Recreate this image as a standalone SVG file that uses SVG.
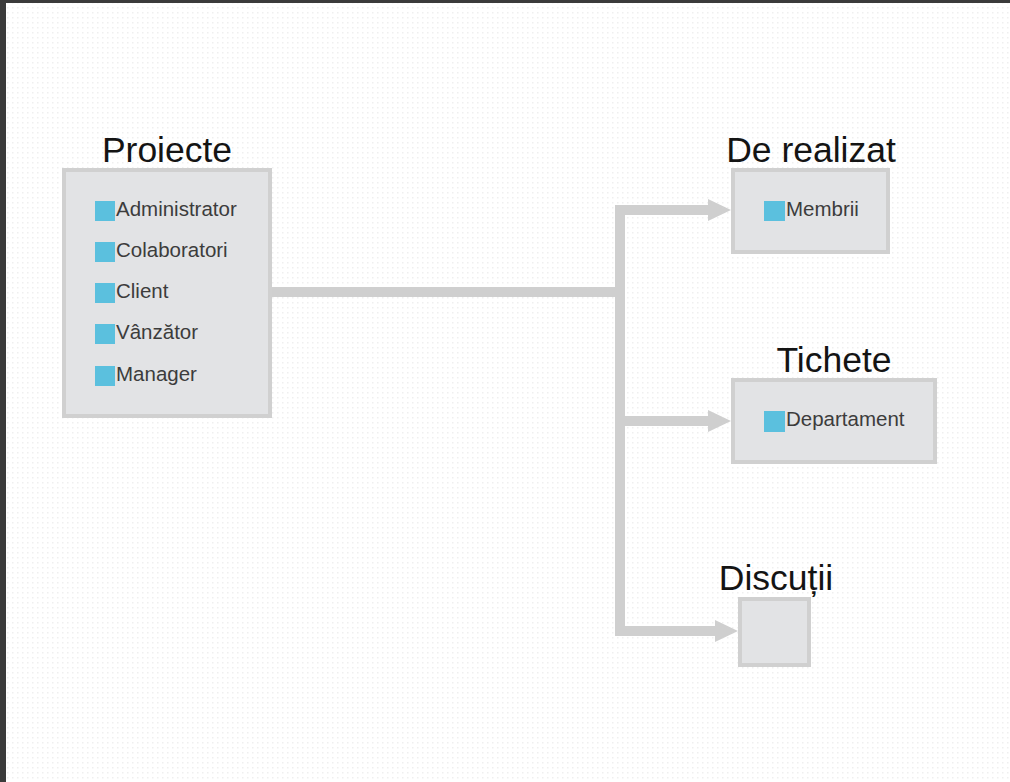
<svg xmlns="http://www.w3.org/2000/svg" width="1010" height="782" viewBox="0 0 1010 782">
<defs>
<pattern id="dots" width="5" height="5" patternUnits="userSpaceOnUse">
<rect x="2" y="2" width="1.5" height="1.5" fill="#efefef"/>
</pattern>
<style>
.box{fill:#e2e3e5;stroke:#d0d0d0;stroke-width:4}
.title{font-family:"Liberation Sans",Arial,sans-serif;font-size:35.5px;fill:#141414;text-anchor:middle}
.item{font-family:"Liberation Sans",Arial,sans-serif;font-size:20.5px;fill:#3c3c3c}
.sq{fill:#5bc0de}
.conn{fill:none;stroke:#cfcfcf;stroke-width:10}
.head{fill:#cfcfcf}
</style>
</defs>
<rect width="1010" height="782" fill="#ffffff"/>
<rect width="1010" height="782" fill="url(#dots)"/>
<rect x="0" y="0" width="1010" height="3" fill="#3b3b3b"/>
<rect x="0" y="0" width="6" height="782" fill="#3b3b3b"/>

<g id="connectors">
<path class="conn" d="M272 292 H620"/>
<path class="conn" d="M620 205 V636"/>
<path class="conn" d="M615 210 H710"/>
<path class="conn" d="M620 421 H710"/>
<path class="conn" d="M615 631 H717"/>
<polygon class="head" points="708,199 731,210 708,221"/>
<polygon class="head" points="708,410 731,421 708,432"/>
<polygon class="head" points="715,620 738,631 715,642"/>
</g>

<g id="proiecte">
<text class="title" x="167" y="162">Proiecte</text>
<rect class="box" x="64" y="170" width="206" height="246"/>
<rect class="sq" x="95" y="201" width="20" height="20"/>
<text class="item" x="116" y="216">Administrator</text>
<rect class="sq" x="95" y="242" width="20" height="20"/>
<text class="item" x="116" y="257">Colaboratori</text>
<rect class="sq" x="95" y="283" width="20" height="20"/>
<text class="item" x="116" y="298">Client</text>
<rect class="sq" x="95" y="324" width="20" height="20"/>
<text class="item" x="116" y="339">Vânzător</text>
<rect class="sq" x="95" y="366" width="20" height="20"/>
<text class="item" x="116" y="381">Manager</text>
</g>

<g id="de-realizat">
<text class="title" x="811" y="162">De realizat</text>
<rect class="box" x="733" y="170" width="155" height="82"/>
<rect class="sq" x="764" y="201" width="21" height="20"/>
<text class="item" x="786" y="216">Membrii</text>
</g>

<g id="tichete">
<text class="title" x="834" y="372">Tichete</text>
<rect class="box" x="733" y="380" width="202" height="82"/>
<rect class="sq" x="764" y="411" width="21" height="21"/>
<text class="item" x="786" y="426">Departament</text>
</g>

<g id="discutii">
<text class="title" x="776" y="590">Discuții</text>
<rect class="box" x="740" y="599" width="69" height="66"/>
</g>
</svg>
